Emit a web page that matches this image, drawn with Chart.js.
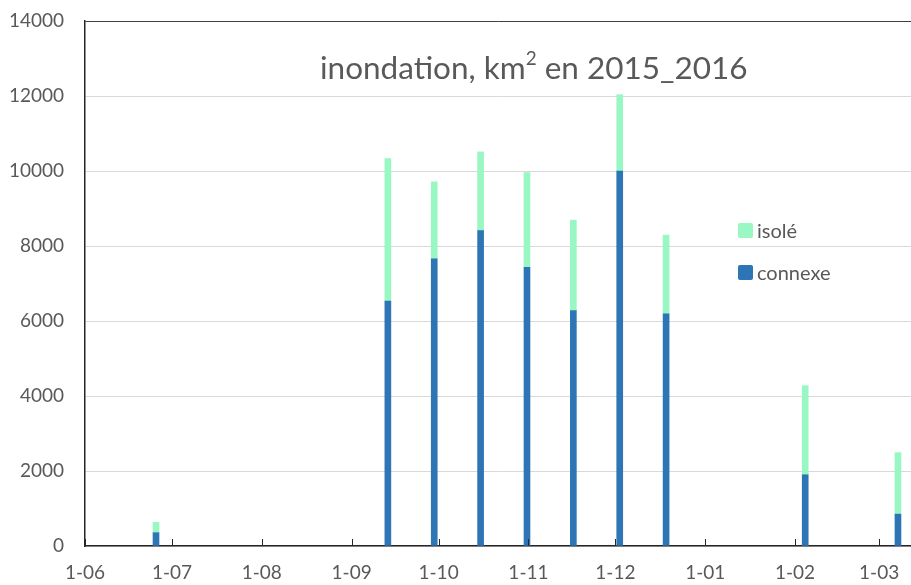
<!DOCTYPE html>
<html>
<head>
<meta charset="utf-8">
<script src="https://cdn.jsdelivr.net/npm/chart.js@4.4.1/dist/chart.umd.min.js"></script>
<style>
    body { margin: 0; background: #fff; }
    #wrap { position: relative; width: 911px; height: 585px; }
    #title {
        position: absolute; left: 320px; top: 49px;
        font-family: Lato, sans-serif; font-size: 31.5px; line-height: 36px;
        color: #595959; white-space: nowrap;
    }
    #title sup { font-size: 60%; line-height: 0; position: relative; top: -0.15em; }
    .key {
        position: absolute; left: 738px; height: 20px;
        display: flex; align-items: center;
        font-family: Lato, sans-serif; font-size: 20px; color: #595959;
    }
    .key i { display: inline-block; width: 15px; height: 15px; border-radius: 2px; margin-right: 4px; }
</style>
</head>
<body>
<div id="wrap">
    <canvas id="chart" width="911" height="585"></canvas>
    <div id="title">inondation, km<sup>2</sup> en 2015_2016</div>
    <div class="key" style="top: 220px;"><i style="background:#99F7C4"></i>isolé</div>
    <div class="key" style="top: 262px;"><i style="background:#2E75B6"></i>connexe</div>
</div>
<script>
// dates of the 16-day composites
const dates = ['2015-06-25', '2015-09-13', '2015-09-29', '2015-10-15', '2015-10-31',
               '2015-11-16', '2015-12-02', '2015-12-18', '2016-02-04', '2016-03-07'];
const connexe = [355, 6530, 7660, 8410, 7430, 6280, 10000, 6190, 1900, 850];
const isole   = [277, 3800, 2050, 2100, 2530, 2410, 2035, 2100, 2375, 1640];

const monthTicks = ['2015-06-01', '2015-07-01', '2015-08-01', '2015-09-01', '2015-10-01',
                    '2015-11-01', '2015-12-01', '2016-01-01', '2016-02-01', '2016-03-01'];
const monthLabels = ['1-06', '1-07', '1-08', '1-09', '1-10', '1-11', '1-12', '1-01', '1-02', '1-03'];

const axisStart = '2015-06-01';
const axisEnd = '2016-03-12';

// days since axis start; bars sit in the middle of their day
const dayOf = s => (Date.parse(s) - Date.parse(axisStart)) / 86400000;
const toPoints = vals => vals.map((v, i) => ({ x: dayOf(dates[i]) + 0.5, y: v }));

const tickFont = { family: 'Lato', size: 19 };

// small month ticks drawn inside the plot, above the x axis
const monthMarks = {
    id: 'monthMarks',
    afterDatasetsDraw(chart) {
        const { ctx, chartArea, scales: { x } } = chart;
        ctx.save();
        ctx.strokeStyle = '#262626';
        ctx.lineWidth = 1;
        x.ticks.forEach(t => {
            const px = Math.round(x.getPixelForValue(t.value)) + 0.5;
            ctx.beginPath();
            ctx.moveTo(px, chartArea.bottom);
            ctx.lineTo(px, chartArea.bottom - 7);
            ctx.stroke();
        });
        ctx.restore();
    }
};

const draw = () => {
    new Chart(document.getElementById('chart'), {
        type: 'bar',
        data: {
            datasets: [
                { label: 'connexe', data: toPoints(connexe), backgroundColor: '#2E75B6', barThickness: 6 },
                { label: 'isolé', data: toPoints(isole), backgroundColor: '#99F7C4', barThickness: 6 }
            ]
        },
        options: {
            responsive: false,
            animation: false,
            layout: { padding: { top: 21, right: 0, left: 0, bottom: 0 } },
            plugins: {
                legend: { display: false },
                title: { display: false },
                tooltip: { enabled: false }
            },
            scales: {
                x: {
                    type: 'linear',
                    stacked: true,
                    offset: false,
                    min: 0,
                    max: dayOf(axisEnd),
                    // gap below the axis comes from an invisible tick mark
                    grid: { drawOnChartArea: false, drawTicks: true, tickLength: 15, tickColor: 'rgba(0,0,0,0)' },
                    border: { color: '#262626', width: 1.5 },
                    afterBuildTicks: s => { s.ticks = monthTicks.map(d => ({ value: dayOf(d) })); },
                    afterFit: s => { s.height = 39; },
                    ticks: {
                        autoSkip: false, maxRotation: 0, padding: 0,
                        color: '#595959', font: tickFont,
                        callback: (v, i) => monthLabels[i]
                    }
                },
                y: {
                    stacked: true,
                    min: 0,
                    max: 14000,
                    afterFit: s => { s.width = 85; },
                    grid: {
                        drawTicks: true,
                        tickLength: 21,
                        tickColor: 'rgba(0,0,0,0)',
                        color: c => (c.tick && c.tick.value === 14000) ? '#404040' : '#d9d9d9'
                    },
                    border: { color: '#262626', width: 1.5 },
                    ticks: {
                        stepSize: 2000, padding: 0, color: '#595959', font: tickFont,
                        callback: v => String(v)
                    }
                }
            }
        },
        plugins: [monthMarks]
    });
};

document.fonts.load('19px Lato').then(draw, draw);
</script>
</body>
</html>
